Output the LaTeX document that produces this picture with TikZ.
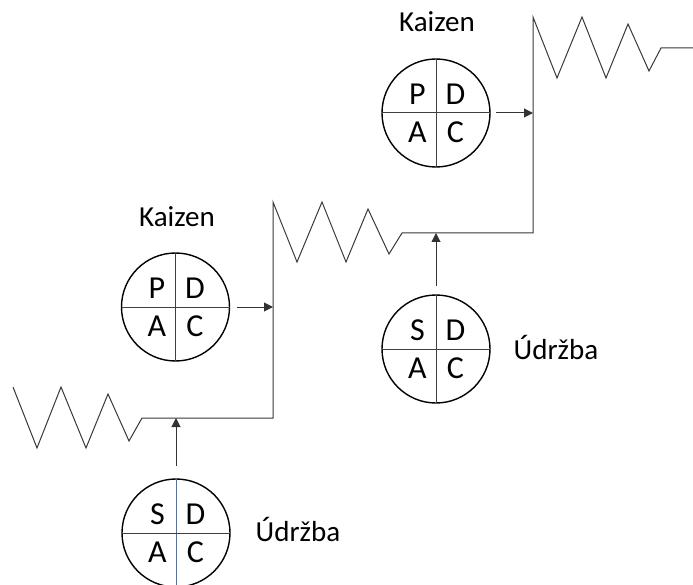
\documentclass[tikz,border=0pt]{standalone}
\usepackage{fontspec}
\setmainfont{Carlito}
\usetikzlibrary{arrows.meta}
\begin{document}
\begin{tikzpicture}[x=1pt,y=-1pt,
  zig/.style={draw=black!78, line width=1pt, line join=miter},
  pdca/.style={circle, draw=black, line width=1.4pt, minimum size=108pt, inner sep=0pt, outer sep=0pt},
  divider/.style={draw=black!75, line width=1pt},
  letter/.style={font=\fontsize{32}{36}\selectfont, inner sep=0pt},
  lbl/.style={font=\fontsize{29}{34}\selectfont, inner sep=0pt, anchor=base},
  flow/.style={draw=black!80, line width=1pt, -{Triangle[length=9pt,width=9pt]}}
]
\useasboundingbox (0,0) rectangle (693,585);
\clip (0,0) rectangle (693,585);

% staircase with zigzags
\draw[zig] (13,387) -- (37,448) -- (61,387) -- (86,448) -- (108,394) -- (129,441) -- (142,418)
  -- (273,418) -- (273,202) -- (297,262) -- (322,202) -- (346,262) -- (368,209) -- (389,254) -- (402,233)
  -- (533,233) -- (533,17) -- (557,78) -- (582,17) -- (606,78) -- (628,24) -- (649,71) -- (661,48) -- (693,48);

\coordinate (t1) at (176,418);
\coordinate (t2) at (273,307);
\coordinate (t3) at (436,233);
\coordinate (t4) at (533,113);

% circles
\node[pdca] (c1) at (176,533) {};
\node[pdca] (c2) at (175.5,307) {};
\node[pdca] (c3) at (436,349) {};
\node[pdca] (c4) at (436,113) {};

\draw[divider, draw={rgb,255:red,68;green,114;blue,196}] (c1.north) -- (c1.south);
\draw[divider] (c1.west) -- (c1.east);
\foreach \c in {c2,c3,c4}{
  \draw[divider] (\c.north) -- (\c.south);
  \draw[divider] (\c.west) -- (\c.east);
}

% letters
\node[letter] (c1s) at ([shift={(-18.5,-19)}]c1) {S};
\node[letter] (c1d) at ([shift={(19.5,-19)}]c1) {D};
\node[letter] (c1a) at ([shift={(-18.5,19)}]c1) {A};
\node[letter] (c1c) at ([shift={(19.5,19)}]c1) {C};

\node[letter] (c2p) at ([shift={(-18.5,-19)}]c2) {P};
\node[letter] (c2d) at ([shift={(19.5,-19)}]c2) {D};
\node[letter] (c2a) at ([shift={(-18.5,19)}]c2) {A};
\node[letter] (c2c) at ([shift={(19.5,19)}]c2) {C};

\node[letter] (c3s) at ([shift={(-18.5,-19)}]c3) {S};
\node[letter] (c3d) at ([shift={(19.5,-19)}]c3) {D};
\node[letter] (c3a) at ([shift={(-18.5,19)}]c3) {A};
\node[letter] (c3c) at ([shift={(19.5,19)}]c3) {C};

\node[letter] (c4p) at ([shift={(-18.5,-19)}]c4) {P};
\node[letter] (c4d) at ([shift={(19.5,-19)}]c4) {D};
\node[letter] (c4a) at ([shift={(-18.5,19)}]c4) {A};
\node[letter] (c4c) at ([shift={(19.5,19)}]c4) {C};

% labels
\node[lbl] (l1) at (298,541) {Údržba};
\node[lbl] (l2) at (177,227) {Kaizen};
\node[lbl] (l3) at (556,359) {Údržba};
\node[lbl] (l4) at (437,32) {Kaizen};

% arrows
\draw[flow, shorten <=13pt] (c1.north) -- (t1);
\draw[flow, shorten <=7pt] (c2.east) -- (t2);
\draw[flow, shorten <=9pt] (c3.north) -- (t3);
\draw[flow, shorten <=6pt] (c4.east) -- (t4);
\end{tikzpicture}
\end{document}
